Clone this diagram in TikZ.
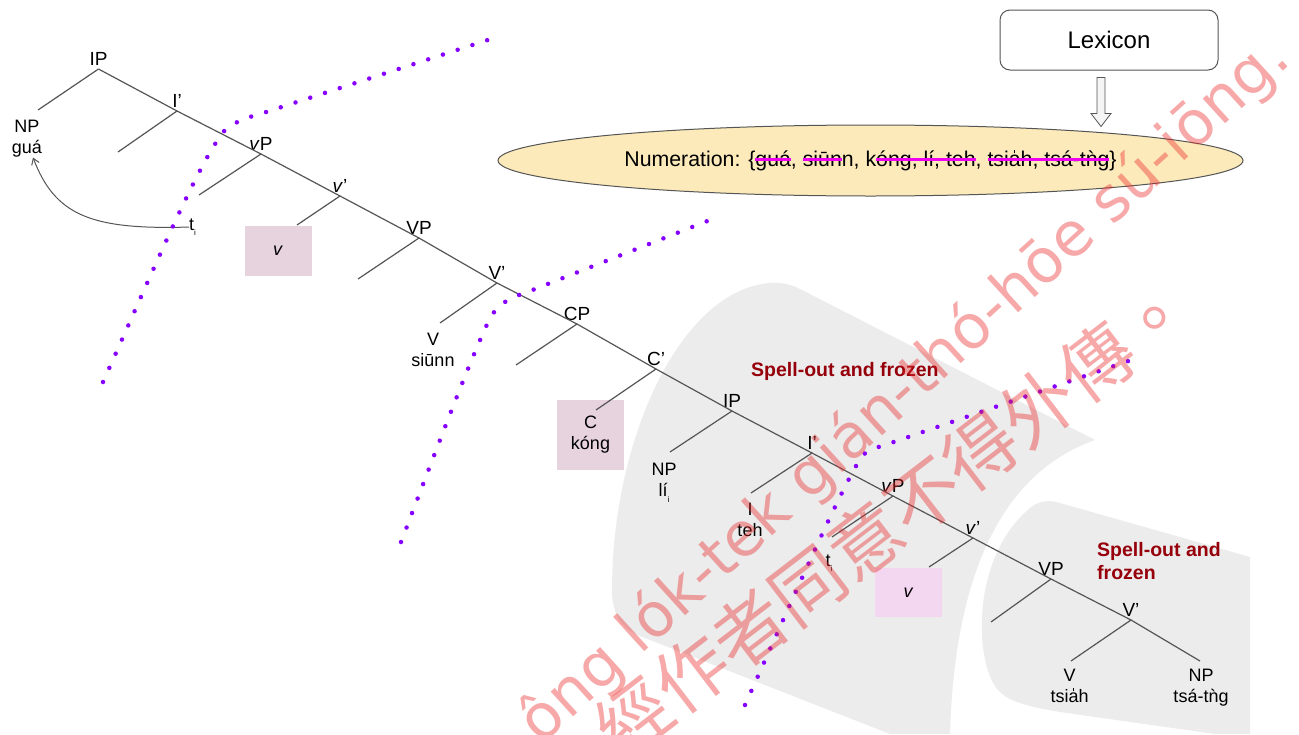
\documentclass[tikz,border=0pt]{standalone}
\usepackage{fontspec}
\setmainfont{Liberation Sans}
\newfontfamily\cjk{Noto Sans CJK TC}
\newfontfamily\wmfont{DejaVu Sans}
\usetikzlibrary{shapes.geometric,arrows.meta,calc}
\definecolor{treeline}{RGB}{85,85,85}
\definecolor{dotpurple}{RGB}{135,0,255}
\definecolor{boxpink}{RGB}{231,211,222}
\definecolor{boxlilac}{RGB}{243,214,240}
\definecolor{graybg}{RGB}{236,236,236}
\definecolor{ellfill}{RGB}{253,234,187}
\definecolor{strikemag}{RGB}{240,0,240}
\definecolor{spellred}{RGB}{150,0,10}
\definecolor{wmred}{RGB}{235,40,40}
\newsavebox\strkbox
\newcommand\strk[1]{\sbox\strkbox{#1}\rlap{\usebox\strkbox}\textcolor{strikemag}{\rule[0.28em]{\wd\strkbox}{3pt}}}
\newcommand\vla{{\setbox0\hbox{a}\rlap{\hbox to\wd0{\hss\rule[0.64em]{0.06em}{0.17em}\hss}}a}}
\newcommand\subi{\raisebox{-0.6ex}{\fontsize{8}{8}\selectfont i}}
\tikzset{
  lbl/.style={font=\fontsize{19}{21}\selectfont, inner xsep=0pt, inner ysep=3.5pt, anchor=south},
  leaf/.style={font=\fontsize{18}{21}\selectfont, align=center, inner sep=0pt, anchor=north},
  branch/.style={draw=treeline, line width=1.2pt},
  headbox/.style={fill=boxpink, minimum width=67pt, minimum height=50pt, inner sep=0pt, font=\fontsize{18}{21}\selectfont, align=center},
  dotline/.style={draw=dotpurple, line width=4.5pt, line cap=round, dash pattern=on 0pt off 15.5pt},
  spell/.style={font=\fontsize{19.5}{23.5}\selectfont\bfseries, text=spellred, inner sep=0pt, align=left},
  wmark/.style={text=wmred, text opacity=0.4, inner sep=0pt}
}
\begin{document}
\begin{tikzpicture}[x=1pt,y=-1pt]
\useasboundingbox (0,0) rectangle (1299,734);
\fill[white] (0,0) rectangle (1299,734);

% gray background bands
\fill[graybg] (612,590) .. controls (612,440) and (680,290) .. (770,283)
  .. controls (780,282) and (790,284) .. (800,289) -- (1095,440)
  .. controls (1010,470) and (955,560) .. (950,734) -- (890,734) -- (640,636)
  .. controls (620,628) and (612,612) .. (612,590) -- cycle;
\fill[graybg] (1000,692) .. controls (975,670) and (968,560) .. (1030,508)
  .. controls (1040,500) and (1050,500) .. (1060,503) -- (1250,557) -- (1250,734)
  -- (1215,734) -- (1060,712) .. controls (1030,707) and (1010,702) .. (1000,692) -- cycle;

% Lexicon and numeration
\node[draw=treeline, rounded corners=10pt, line width=1pt, minimum width=218pt, minimum height=60pt, font=\fontsize{24}{28}\selectfont, fill=white] (lex) at (1109,40) {Lexicon};
\node[ellipse, draw=treeline, line width=1pt, fill=ellfill, minimum width=745pt, minimum height=71pt, inner sep=0pt, font=\fontsize{21.3}{24}\selectfont] (num) at (870.5,160.5)
  {Numeration: \{\strk{guá}, \strk{siūn}n, k\strk{óng, lí, teh}, \strk{tsi\vla h, tsá-tǹg}\}};
\draw[fill=gray!8, draw=treeline, line width=0.8pt] ([xshift=-12pt,yshift=-7pt]lex.south) -- ++(0,36) -- ++(-6,0) -- ++(10,13) -- ++(10,-13) -- ++(-6,0) -- ++(0,-36) -- cycle;

% head boxes
\node[headbox] (vboxa) at (278,251) {\textit{v}};
\node[headbox, minimum height=70pt] (Cbox) at (590.5,435) {C\\kóng};
\node[headbox, fill=boxlilac, minimum height=49pt] (vboxb) at (908.5,592.5) {\textit{v}};

% tree labels
\node[lbl] (IPa) at (98.5,69) {IP};
\node[lbl] (Ia) at (177,111) {I’};
\node[lbl] (vPa) at (261,154) {\textit{v}P};
\node[lbl] (vba) at (340,196) {\textit{v}’};
\node[lbl] (VPa) at (419,238) {VP};
\node[lbl] (Vba) at (497,283) {V’};
\node[lbl] (CP) at (577,324) {CP};
\node[lbl] (Cb) at (656,369) {C’};
\node[lbl] (IPb) at (732,411) {IP};
\node[lbl] (Ib) at (812,453) {I’};
\node[lbl] (vPb) at (893,496) {\textit{v}P};
\node[lbl] (vbb) at (973,538) {\textit{v}’};
\node[lbl] (VPb) at (1051,579) {VP};
\node[lbl] (Vbb) at (1131,620) {V’};

% leaves
\node[leaf] (NPgua) at (27,120) {NP\\guá};
\node[leaf] (Vsiunn) at (433,333) {V\\siūnn};
\node[leaf] (NPli) at (664,463) {NP\\lí\subi};
\node[leaf] (Iteh) at (750,503) {I\\teh};
\node[leaf] (Vtsiah) at (1069.5,669) {V\\tsi\vla h};
\node[leaf] (NPtsatng) at (1201,669) {NP\\tsá-tǹg};
\node[font=\fontsize{18}{21}\selectfont, inner sep=0pt, anchor=base west] (ta) at (189,230) {t\subi};
\node[font=\fontsize{18}{21}\selectfont, inner sep=0pt, anchor=base west] (tb) at (825.5,566) {t\subi};

% branch end points
\coordinate (IPal) at (38,110);
\coordinate (Ial) at (118,152);
\coordinate (vPal) at (199,195);
\coordinate (vbal) at (297,225);
\coordinate (VPal) at (358,279);
\coordinate (Vbal) at (440,323);
\coordinate (CPl) at (516,365);
\coordinate (Cbl) at (596,410);
\coordinate (IPbl) at (670,452);
\coordinate (Ibl) at (751,493);
\coordinate (vPbl) at (832,537);
\coordinate (vbbl) at (929,567);
\coordinate (VPbl) at (991,622);
\coordinate (Vbbl) at (1071,661);
\coordinate (Vbbr) at (1200,661);

% branches
\draw[branch] (IPa.south) -- (IPal);  \draw[branch] (IPa.south) -- (Ia.south);
\draw[branch] (Ia.south) -- (Ial);    \draw[branch] (Ia.south) -- (vPa.south);
\draw[branch] (vPa.south) -- (vPal);  \draw[branch] (vPa.south) -- (vba.south);
\draw[branch] (vba.south) -- (vbal);  \draw[branch] (vba.south) -- (VPa.south);
\draw[branch] (VPa.south) -- (VPal);  \draw[branch] (VPa.south) -- (Vba.south);
\draw[branch] (Vba.south) -- (Vbal);  \draw[branch] (Vba.south) -- (CP.south);
\draw[branch] (CP.south) -- (CPl);    \draw[branch] (CP.south) -- (Cb.south);
\draw[branch] (Cb.south) -- (Cbl);    \draw[branch] (Cb.south) -- (IPb.south);
\draw[branch] (IPb.south) -- (IPbl);  \draw[branch] (IPb.south) -- (Ib.south);
\draw[branch] (Ib.south) -- (Ibl);    \draw[branch] (Ib.south) -- (vPb.south);
\draw[branch] (vPb.south) -- (vPbl);  \draw[branch] (vPb.south) -- (vbb.south);
\draw[branch] (vbb.south) -- (vbbl);  \draw[branch] (vbb.south) -- (VPb.south);
\draw[branch] (VPb.south) -- (VPbl);  \draw[branch] (VPb.south) -- (Vbb.south);
\draw[branch] (Vbb.south) -- (Vbbl);  \draw[branch] (Vbb.south) -- (Vbbr);

% movement arrow
\coordinate (guaB) at ([xshift=6pt]NPgua.south);
\draw[treeline, line width=1pt, -{Straight Barb[length=6pt,width=8pt]}] (ta.west) .. controls (90,230) and (55,215) .. (guaB);

% spell-out labels
\node[spell, anchor=base west] (sp1) at (751,376) {Spell-out and frozen};
\node[spell, anchor=north west] (sp2) at (1097,542) {Spell-out and\\frozen};

% dotted phase boundaries
\draw[dotline] (103,382) .. controls (160,255) and (200,160) .. (225,130) .. controls (235,122) and (245,118) .. (260,114) -- (497,37);
\draw[dotline] (401,542) .. controls (440,440) and (470,360) .. (490,318) .. controls (500,302) and (510,298) .. (530,291) -- (715,218);
\draw[dotline] (745,705) .. controls (790,605) and (840,490) .. (862,456) .. controls (868,450) and (875,448) .. (885,445) -- (1140,357);

% watermark
\begin{scope}
\clip (0,0) rectangle (1299,734);
\node[wmark, rotate=42.3, font=\wmfont\fontsize{61}{61}\selectfont] (wm1) at (905,391) {ông lók-tek gián-thó-hōe sú-iōng.};
\node[wmark, rotate=37.5, font=\cjk\fontsize{73}{73}\selectfont] (wm2) at (894,518) {經作者同意不得外傳。};
\end{scope}
\end{tikzpicture}
\end{document}
